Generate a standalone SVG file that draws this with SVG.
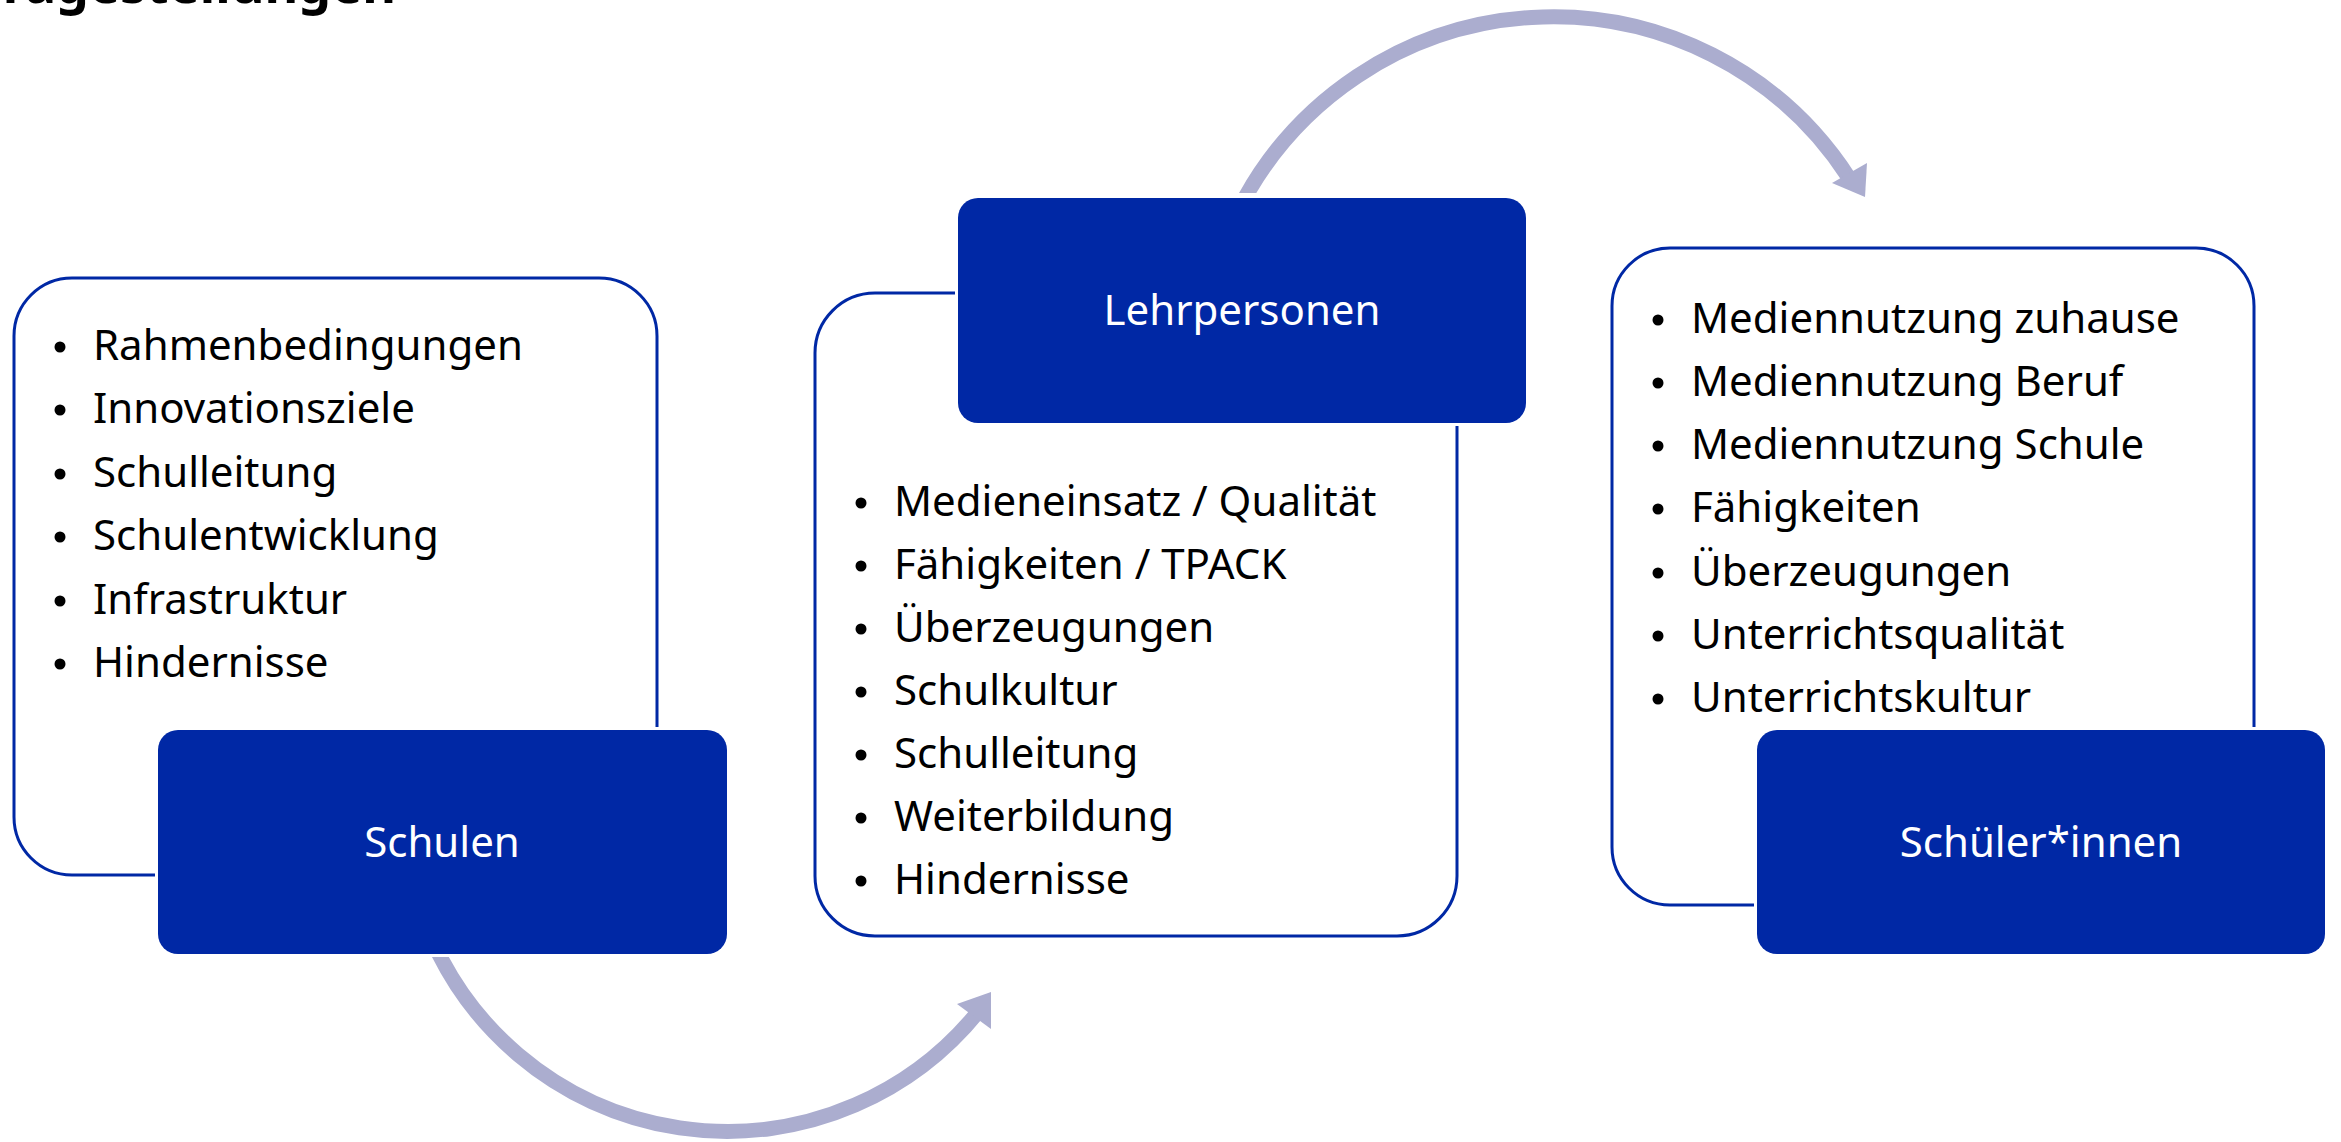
<svg xmlns="http://www.w3.org/2000/svg" width="2341" height="1142" viewBox="0 0 2341 1142">
<style>
.bg{fill:#ffffff}
.box{fill:#ffffff;stroke:#0028A5;stroke-width:3}
.halo{fill:#ffffff}
.label{fill:#0028A5}
.t{font-family:"Noto Sans","Open Sans","Liberation Sans",sans-serif;font-size:42px;fill:#000000}
.lt{font-family:"Noto Sans","Open Sans","Liberation Sans",sans-serif;font-size:42px;fill:#ffffff;text-anchor:middle}
.title{font-family:"Noto Sans","Liberation Sans",sans-serif;font-size:52px;font-weight:bold;fill:#000000;text-anchor:end}
.arc{fill:none;stroke:#ABADCF;stroke-width:15}
.head{fill:#ABADCF}
.dot{fill:#000000}
</style>
<defs>
<clipPath id="clipBottom"><rect x="0" y="957" width="2341" height="200"/></clipPath>
<clipPath id="clipTop"><rect x="0" y="0" width="2341" height="193"/></clipPath>
</defs>
<rect class="bg" x="0" y="0" width="2341" height="1142"/>
<text class="title" x="396" y="3">Fragestellungen</text>

<g id="connectors">
<g id="arrow-schulen-lehrpersonen">
<path class="arc" clip-path="url(#clipBottom)" d="M 428 930 A 323 323 0 0 0 978 1012"/>
<polygon class="head" points="957,1004 991,992 991,1029"/>
</g>
<g id="arrow-lehrpersonen-schueler">
<path class="arc" clip-path="url(#clipTop)" d="M 1236 215 A 352.5 352.5 0 0 1 1849 178"/>
<polygon class="head" points="1832,183 1867,163 1865,197"/>
</g>
</g>

<g id="node-schulen">
<rect class="box" x="14" y="278" width="643" height="597" rx="58"/>
<g class="t">
<circle class="dot" cx="60" cy="347" r="5.5"/><text x="93" y="360">Rahmenbedingungen</text>
<circle class="dot" cx="60" cy="410" r="5.5"/><text x="93" y="423">Innovationsziele</text>
<circle class="dot" cx="60" cy="474" r="5.5"/><text x="93" y="487">Schulleitung</text>
<circle class="dot" cx="60" cy="537" r="5.5"/><text x="93" y="550">Schulentwicklung</text>
<circle class="dot" cx="60" cy="601" r="5.5"/><text x="93" y="614">Infrastruktur</text>
<circle class="dot" cx="60" cy="664" r="5.5"/><text x="93" y="677">Hindernisse</text>
</g>
<rect class="halo" x="155" y="727" width="575" height="230" rx="23"/>
<rect class="label" x="158" y="730" width="569" height="224" rx="20"/>
<text class="lt" x="442" y="857">Schulen</text>
</g>

<g id="node-lehrpersonen">
<rect class="box" x="815" y="293" width="642" height="643" rx="60"/>
<g class="t">
<circle class="dot" cx="861" cy="503" r="5.5"/><text x="894" y="516">Medieneinsatz / Qualität</text>
<circle class="dot" cx="861" cy="566" r="5.5"/><text x="894" y="579">Fähigkeiten / TPACK</text>
<circle class="dot" cx="861" cy="629" r="5.5"/><text x="894" y="642">Überzeugungen</text>
<circle class="dot" cx="861" cy="692" r="5.5"/><text x="894" y="705">Schulkultur</text>
<circle class="dot" cx="861" cy="755" r="5.5"/><text x="894" y="768">Schulleitung</text>
<circle class="dot" cx="861" cy="818" r="5.5"/><text x="894" y="831">Weiterbildung</text>
<circle class="dot" cx="861" cy="881" r="5.5"/><text x="894" y="894">Hindernisse</text>
</g>
<rect class="halo" x="955" y="195" width="574" height="231" rx="23"/>
<rect class="label" x="958" y="198" width="568" height="225" rx="20"/>
<text class="lt" x="1242" y="325">Lehrpersonen</text>
</g>

<g id="node-schueler">
<rect class="box" x="1612" y="248" width="642" height="657" rx="58"/>
<g class="t">
<circle class="dot" cx="1658" cy="320" r="5.5"/><text x="1691" y="333">Mediennutzung zuhause</text>
<circle class="dot" cx="1658" cy="383" r="5.5"/><text x="1691" y="396">Mediennutzung Beruf</text>
<circle class="dot" cx="1658" cy="446" r="5.5"/><text x="1691" y="459">Mediennutzung Schule</text>
<circle class="dot" cx="1658" cy="509" r="5.5"/><text x="1691" y="522">Fähigkeiten</text>
<circle class="dot" cx="1658" cy="573" r="5.5"/><text x="1691" y="586">Überzeugungen</text>
<circle class="dot" cx="1658" cy="636" r="5.5"/><text x="1691" y="649">Unterrichtsqualität</text>
<circle class="dot" cx="1658" cy="699" r="5.5"/><text x="1691" y="712">Unterrichtskultur</text>
</g>
<rect class="halo" x="1754" y="727" width="574" height="230" rx="23"/>
<rect class="label" x="1757" y="730" width="568" height="224" rx="20"/>
<text class="lt" x="2041" y="857">Schüler*innen</text>
</g>
</svg>
